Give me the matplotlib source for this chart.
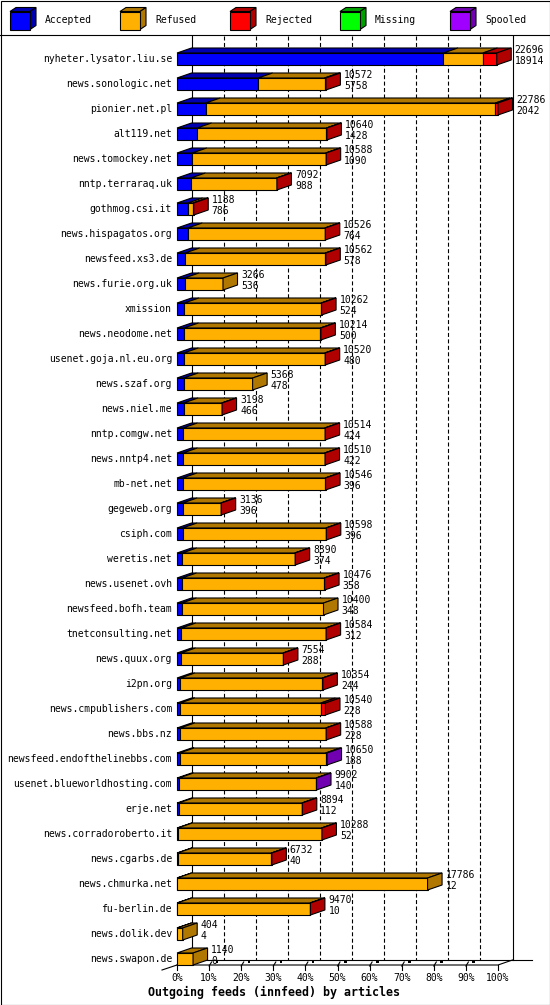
import matplotlib
matplotlib.use('Agg')
import matplotlib.pyplot as plt
from matplotlib.patches import Polygon, Rectangle

# ── data ──────────────────────────────────────────────────────────────
hosts = [
    'nyheter.lysator.liu.se', 'news.sonologic.net', 'pionier.net.pl', 'alt119.net',
    'news.tomockey.net', 'nntp.terraraq.uk', 'gothmog.csi.it', 'news.hispagatos.org',
    'newsfeed.xs3.de', 'news.furie.org.uk', 'xmission', 'news.neodome.net',
    'usenet.goja.nl.eu.org', 'news.szaf.org', 'news.niel.me', 'nntp.comgw.net',
    'news.nntp4.net', 'mb-net.net', 'gegeweb.org', 'csiph.com', 'weretis.net',
    'news.usenet.ovh', 'newsfeed.bofh.team', 'tnetconsulting.net', 'news.quux.org',
    'i2pn.org', 'news.cmpublishers.com', 'news.bbs.nz', 'newsfeed.endofthelinebbs.com',
    'usenet.blueworldhosting.com', 'erje.net', 'news.corradoroberto.it', 'news.cgarbs.de',
    'news.chmurka.net', 'fu-berlin.de', 'news.dolik.dev', 'news.swapon.de',
]
offered = [22696, 10572, 22786, 10640, 10588, 7092, 1188, 10526, 10562, 3266, 10262, 10214,
           10520, 5368, 3198, 10514, 10510, 10546, 3136, 10598, 8390, 10476, 10400, 10584,
           7554, 10354, 10540, 10588, 10650, 9902, 8894, 10288, 6732, 17786, 9470, 404, 1140]
accepted = [18914, 5758, 2042, 1428, 1090, 988, 786, 764, 578, 536, 524, 500,
            480, 478, 466, 424, 422, 396, 396, 396, 374, 358, 348, 312,
            288, 244, 228, 228, 188, 140, 112, 52, 40, 12, 10, 4, 0]
refused = [2800, 4714, 20564, 9182, 9468, 6084, 352, 9732, 9954, 2730, 9708, 9684,
           10010, 4890, 2712, 10060, 10058, 10120, 2720, 10172, 7986, 10088, 10052, 10242,
           7236, 10080, 9982, 10330, 10362, 9732, 8752, 10206, 6662, 17774, 9430, 400, 1140]
rejected = [982, 100, 180, 30, 30, 20, 50, 30, 30, 0, 30, 30,
            30, 0, 20, 30, 30, 30, 20, 30, 30, 30, 0, 30,
            30, 30, 330, 30, 0, 0, 30, 30, 30, 0, 30, 0, 0]
missing = [0, 0, 0, 0, 0, 0, 0, 0, 0, 0, 0, 0, 0, 0, 0, 0, 0, 0, 0,
           0, 0, 0, 0, 0, 0, 0, 0, 0, 0, 0, 0, 0, 0, 0, 0, 0, 0]
spooled = [0, 0, 0, 0, 0, 0, 0, 0, 0, 0, 0, 0, 0, 0, 0, 0, 0, 0, 0,
           0, 0, 0, 0, 0, 0, 0, 0, 0, 100, 30, 0, 0, 0, 0, 0, 0, 0]

series_names = ['Accepted', 'Refused', 'Rejected', 'Missing', 'Spooled']
front_colors = ['#0000ff', '#ffb000', '#ff0000', '#00ff00', '#a000ff']
dark_colors = ['#0000b0', '#b07800', '#b00000', '#00a000', '#7000b0']
pct_ticks = [0, 10, 20, 30, 40, 50, 60, 70, 80, 90, 100]

FONT = 'DejaVu Sans Mono'
FS = 7
LW = 0.8
W, H = 550, 1005

# chart geometry (pixels)
X0, XW = 177, 321          # front 0% .. 100%
DX, DY = 14.5, 5           # 3D depth
ROW0, ROWH = 59, 25        # centre of first bar, row step
BAR_H = 12
TOP, FLOOR = 36, 960

fig = plt.figure(figsize=(W / 100, H / 100), dpi=100)
canvas = fig.add_axes([0, 0, 1, 1])
canvas.set_xlim(0, W)
canvas.set_ylim(H, 0)
canvas.axis('off')

# frame + legend
canvas.add_patch(Rectangle((0.5, 0.5), W - 1, H - 1, fill=False, lw=LW, ec='black'))
canvas.plot([0, W], [35, 35], color='black', lw=LW)
for i, (name, fc, dc) in enumerate(zip(series_names, front_colors, dark_colors)):
    x0 = 10 + 110 * i
    canvas.add_patch(Polygon([(x0, 11.5), (x0 + 20, 11.5), (x0 + 26, 7.5), (x0 + 6, 7.5)],
                             fc=dc, ec='black', lw=LW))
    canvas.add_patch(Polygon([(x0 + 20, 11.5), (x0 + 20, 29.5), (x0 + 26, 25.5), (x0 + 26, 7.5)],
                             fc=dc, ec='black', lw=LW))
    canvas.add_patch(Rectangle((x0, 11.5), 20, 18, fc=fc, ec='black', lw=LW))
    canvas.text(x0 + 35, 20, name, family=FONT, fontsize=FS, va='center', ha='left')

# back wall + grid
for p in pct_ticks:
    xb = X0 + DX + XW * p / 100
    if p in (0, 100):
        canvas.plot([xb, xb], [TOP, FLOOR], color='black', lw=LW)
    else:
        canvas.plot([xb, xb], [TOP, FLOOR], color='black', lw=LW, dashes=(3.6, 2.2))

# floor
canvas.plot([X0 + DX, 532], [FLOOR, FLOOR], color='black', lw=LW)
canvas.plot([X0, X0 + XW, X0 + XW + DX], [FLOOR + DY, FLOOR + DY, FLOOR], color='black', lw=LW)
canvas.plot([X0 - 15, X0], [FLOOR + DY + 5, FLOOR + DY], color='black', lw=LW)
for p in pct_ticks:
    xf = X0 + XW * p / 100
    canvas.plot([xf, xf], [FLOOR + DY, FLOOR + DY + 5], color='black', lw=LW)
    canvas.text(xf, 978, f'{p}%', family=FONT, fontsize=FS, ha='center', va='center')
    if 0 < p < 100:
        canvas.plot([xf, xf + 2.5], [FLOOR + DY + 1, FLOOR + 2], color='black', lw=LW)
        canvas.add_patch(Rectangle((xf + 6.5, FLOOR + 0.5), 2.5, 2.5, fc='black', ec='none'))
canvas.text(274, 992, 'Outgoing feeds (innfeed) by articles', family=FONT,
            fontsize=8.4, fontweight='bold', ha='center', va='center')

# bars (data axes placed over plot area)
n = len(hosts)
vmax = max(offered)
ax = fig.add_axes([X0 / W, 1 - (ROW0 + ROWH * (n - 0.5)) / H, XW / W, ROWH * n / H])
ax.set_xlim(0, vmax)
ax.set_ylim(n - 0.5, -0.5)
ax.axis('off')
ax.patch.set_alpha(0)

dxd = DX / XW * vmax
dyd = DY / ROWH
hh = BAR_H / ROWH / 2

segments = list(zip(accepted, refused, rejected, missing, spooled))
for r, segs in enumerate(segments):
    yt, yb = r - hh, r + hh
    left = 0
    last = None
    for k, v in enumerate(segs):
        if v <= 0:
            continue
        right = left + v
        ax.add_patch(Polygon([(left, yt), (right, yt), (right + dxd, yt - dyd), (left + dxd, yt - dyd)],
                             fc=dark_colors[k], ec='black', lw=LW, clip_on=False))
        ax.add_patch(Rectangle((left, yt), v, yb - yt, fc=front_colors[k], ec='black',
                               lw=LW, clip_on=False))
        last = k
        left = right
    ax.add_patch(Polygon([(left, yt), (left, yb), (left + dxd, yb - dyd), (left + dxd, yt - dyd)],
                         fc=dark_colors[last], ec='black', lw=LW, clip_on=False))

    ax.annotate(hosts[r], xy=(0, r), xytext=(-3.6, 0), textcoords='offset points',
                family=FONT, fontsize=FS, ha='right', va='center', annotation_clip=False)
    ax.annotate(str(offered[r]), xy=(left + dxd, r), xytext=(2.5, 6.5), textcoords='offset points',
                family=FONT, fontsize=FS, ha='left', va='center', annotation_clip=False)
    ax.annotate(str(accepted[r]), xy=(left + dxd, r), xytext=(2.5, -1.4), textcoords='offset points',
                family=FONT, fontsize=FS, ha='left', va='center', annotation_clip=False)

fig.savefig('out.png', dpi=100)
